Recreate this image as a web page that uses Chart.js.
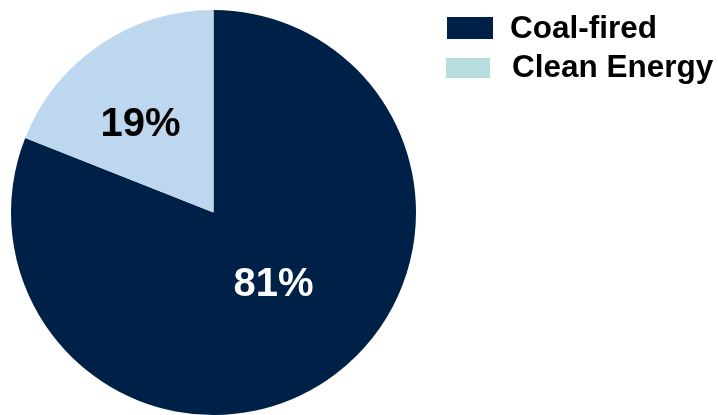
<!DOCTYPE html>
<html>
<head>
<meta charset="utf-8">
<script src="https://cdn.jsdelivr.net/npm/chart.js@4"></script>
<style>
  html, body { margin: 0; padding: 0; background: #ffffff; }
  #wrap { width: 718px; height: 415px; position: relative; }
</style>
</head>
<body>
<div id="wrap"><canvas id="pie"></canvas></div>
<script>
// Power generation mix
const categories = ['Coal-fired', 'Clean Energy'];
const shares = [81, 19];
const sliceColors = ['#002147', '#BDD7EE'];
const legendColors = ['#002147', '#B7DDE0'];
const labelColors = ['#ffffff', '#000000'];

const FONT = '"Liberation Sans", Arial, sans-serif';

// percentage labels, placed relative to the pie centre in units of its radius
const sliceLabels = {
  id: 'sliceLabels',
  afterDatasetsDraw(chart) {
    const spots = [[0.296, 0.36], [-0.36, -0.43]];
    const ctx = chart.ctx;
    const meta = chart.getDatasetMeta(0);
    ctx.save();
    ctx.font = 'bold 40px ' + FONT;
    ctx.textAlign = 'center';
    ctx.textBaseline = 'middle';
    meta.data.forEach((arc, i) => {
      const p = arc.getProps(['x', 'y', 'outerRadius'], true);
      ctx.fillStyle = labelColors[i];
      ctx.fillText(shares[i] + '%',
        p.x + spots[i][0] * p.outerRadius,
        p.y + spots[i][1] * p.outerRadius);
    });
    ctx.restore();
  }
};

// legend block to the right of the pie
const sideLegend = {
  id: 'sideLegend',
  afterDraw(chart) {
    const ctx = chart.ctx;
    ctx.save();
    ctx.font = 'bold 31.5px ' + FONT;
    ctx.textAlign = 'left';
    ctx.textBaseline = 'alphabetic';
    const rows = [
      { box: [447, 17, 46, 22], text: [510, 38] },
      { box: [446, 58, 44, 20], text: [512, 77] }
    ];
    categories.forEach((name, i) => {
      const r = rows[i];
      ctx.fillStyle = legendColors[i];
      ctx.fillRect(r.box[0], r.box[1], r.box[2], r.box[3]);
      ctx.fillStyle = '#000000';
      ctx.fillText(name, r.text[0], r.text[1]);
    });
    ctx.restore();
  }
};

new Chart(document.getElementById('pie'), {
  type: 'pie',
  data: {
    labels: categories,
    datasets: [{
      data: shares,
      backgroundColor: sliceColors,
      borderWidth: 0
    }]
  },
  options: {
    responsive: true,
    maintainAspectRatio: false,
    animation: false,
    layout: { padding: { left: 10, top: 10, right: 301, bottom: 0 } },
    plugins: {
      legend: { display: false },
      tooltip: { enabled: false }
    }
  },
  plugins: [sliceLabels, sideLegend]
});
</script>
</body>
</html>
